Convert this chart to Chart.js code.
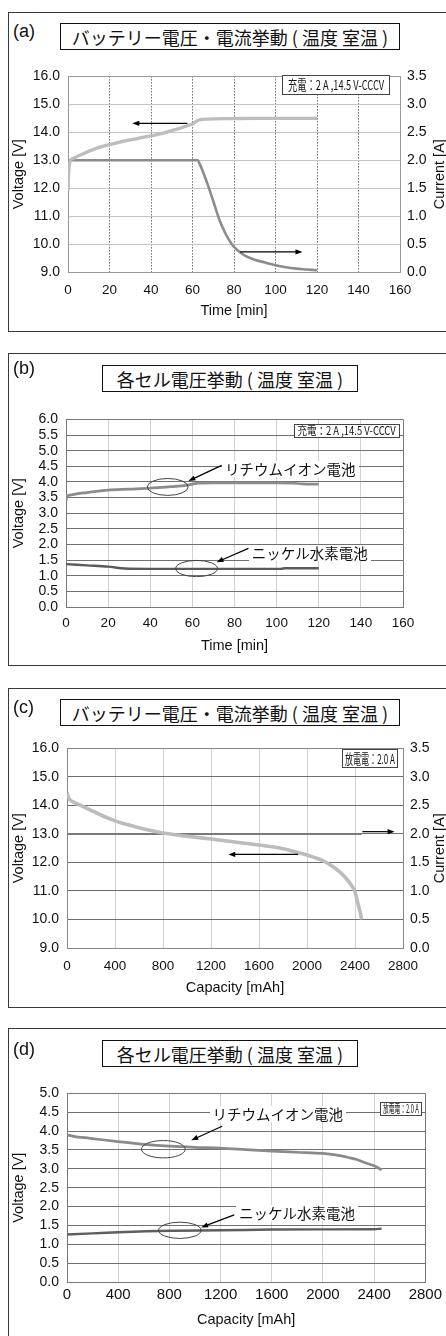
<!DOCTYPE html>
<html><head><meta charset="utf-8">
<script src="https://cdn.jsdelivr.net/npm/chart.js@4.4.1/dist/chart.umd.min.js"></script>
<style>
html,body{margin:0;padding:0;background:#fff;}
#page{position:relative;width:446px;height:1336px;overflow:hidden;font-family:"Liberation Sans",Arial,sans-serif;}
.frame{position:absolute;left:8px;width:470px;border:1px solid #3a3a3a;box-sizing:border-box;z-index:0;}
.plab{position:absolute;left:13px;font-size:18px;line-height:20px;color:#111;z-index:3;}
.title{position:absolute;height:27px;border:1px solid #111;box-sizing:border-box;background:#fff;display:flex;align-items:center;justify-content:center;font-family:"Noto Sans CJK JP",sans-serif;font-size:18px;color:#111;white-space:pre;z-index:3;}
.cond{position:absolute;border:1px solid #444;box-sizing:border-box;background:#fff;display:flex;align-items:center;justify-content:center;overflow:visible;font-family:"Noto Sans CJK JP",sans-serif;color:#111;white-space:nowrap;z-index:3;}
.cond span{display:inline-block;transform-origin:50% 50%;line-height:1;}
.slab{position:absolute;background:#fff;font-family:"Noto Sans CJK JP",sans-serif;font-size:14.5px;line-height:16px;padding:0 3px;color:#111;white-space:nowrap;transform:translateY(-50%);z-index:3;}
canvas{position:absolute;left:0;z-index:1;}
</style></head>
<body>
<div id="page">
  <div class="frame" style="top:12px;height:320px;"></div>
  <div class="frame" style="top:353px;height:313px;"></div>
  <div class="frame" style="top:688px;height:320px;"></div>
  <div class="frame" style="top:1028px;height:330px;"></div>

  <div class="plab" style="top:21px;">(a)</div>
  <div class="plab" style="top:358px;">(b)</div>
  <div class="plab" style="top:697px;">(c)</div>
  <div class="plab" style="top:1039px;">(d)</div>

  <div class="title" style="left:60px;top:23px;width:340px;">バッテリー電圧・電流挙動 ( 温度 室温 )</div>
  <div class="title" style="left:102px;top:365px;width:256px;">各セル電圧挙動 ( 温度 室温 )</div>
  <div class="title" style="left:60px;top:699px;width:340px;">バッテリー電圧・電流挙動 ( 温度 室温 )</div>
  <div class="title" style="left:102px;top:1040px;width:256px;">各セル電圧挙動 ( 温度 室温 )</div>

  <div class="cond" style="left:282px;top:75px;width:108px;height:20px;font-size:13.5px;"><span data-w="96">充電：2 A ,14.5 V-CCCV</span></div>
  <div class="cond" style="left:294px;top:424px;width:106px;height:14px;font-size:11.5px;"><span data-w="98">充電：2 A ,14.5 V-CCCV</span></div>
  <div class="cond" style="left:342px;top:749px;width:56px;height:19px;font-size:13.5px;"><span data-w="50">放電電：2.0 A</span></div>
  <div class="cond" style="left:380px;top:1102px;width:42px;height:14px;font-size:11.5px;"><span data-w="36">放電電：2.0 A</span></div>

  <canvas id="cA"></canvas>
  <canvas id="cB"></canvas>
  <canvas id="cC"></canvas>
  <canvas id="cD"></canvas>
</div>
<script>
// ---------------- DATA ----------------
// (a) charge: battery voltage [V] and current [A] vs time [min]
const chargeVoltTime = [0, 0.3, 0.7, 1.2, 2, 4, 7, 10, 15, 20, 25, 30, 35, 40, 45, 50, 55, 58, 60, 62, 63, 65, 70, 80, 90, 100, 110, 120];
const chargeVoltage  = [11.9, 12.5, 12.85, 13.0, 13.05, 13.12, 13.22, 13.32, 13.46, 13.56, 13.65, 13.73, 13.8, 13.87, 13.95, 14.06, 14.17, 14.25, 14.3, 14.4, 14.44, 14.46, 14.48, 14.49, 14.5, 14.5, 14.5, 14.5];
const chargeCurrTime = [0, 62.5, 63.5, 65, 67, 70, 73, 76, 78, 80, 83, 86, 90, 95, 100, 105, 110, 115, 120];
const chargeCurrent  = [2.0, 2.0, 1.93, 1.8, 1.6, 1.27, 0.93, 0.68, 0.55, 0.45, 0.35, 0.28, 0.22, 0.17, 0.12, 0.085, 0.06, 0.045, 0.03];

// (b) cell voltages during charge vs time [min]
const liChargeTime   = [0, 0.5, 2, 5, 10, 20, 30, 40, 50, 57, 60, 63, 70, 80, 100, 108, 112, 120];
const liChargeVolt   = [3.40, 3.55, 3.58, 3.62, 3.66, 3.74, 3.77, 3.80, 3.85, 3.89, 3.93, 3.96, 3.97, 3.97, 3.97, 3.96, 3.94, 3.93];
const nimhChargeTime = [0, 10, 20, 28, 40, 60, 80, 102, 104, 120];
const nimhChargeVolt = [1.37, 1.33, 1.29, 1.23, 1.22, 1.22, 1.22, 1.22, 1.24, 1.24];

// (c) discharge: battery voltage [V] and current [A] vs capacity [mAh]
const dischargeCap   = [0, 15, 40, 100, 200, 300, 400, 500, 600, 700, 800, 1000, 1200, 1400, 1600, 1800, 1950, 2000, 2100, 2160, 2220, 2280, 2330, 2370, 2400, 2425, 2445, 2455];
const dischargeVolt  = [14.45, 14.25, 14.15, 14.03, 13.83, 13.63, 13.46, 13.33, 13.22, 13.12, 13.03, 12.92, 12.82, 12.72, 12.61, 12.48, 12.32, 12.26, 12.12, 12.0, 11.84, 11.64, 11.42, 11.2, 10.97, 10.55, 10.22, 10.0];
const dischargeCurrCap = [0, 2455];
const dischargeCurr    = [2.0, 2.0];

// (d) cell voltages during discharge vs capacity [mAh]
const liDisCap    = [0, 50, 180, 400, 600, 800, 1000, 1200, 1400, 1600, 1800, 2000, 2100, 2200, 2270, 2330, 2400, 2459];
const liDisVolt   = [3.90, 3.86, 3.81, 3.72, 3.65, 3.60, 3.57, 3.55, 3.51, 3.47, 3.44, 3.41, 3.37, 3.30, 3.24, 3.16, 3.08, 2.97];
const nimhDisCap  = [0, 200, 400, 800, 1200, 1600, 2000, 2400, 2459];
const nimhDisVolt = [1.26, 1.29, 1.32, 1.36, 1.37, 1.39, 1.395, 1.40, 1.415];

// tick labels
const timeTicks   = [0, 20, 40, 60, 80, 100, 120, 140, 160];
const capTicks    = [0, 400, 800, 1200, 1600, 2000, 2400, 2800];
const battVTicks  = [9, 10, 11, 12, 13, 14, 15, 16];
const currTicks   = [0, 0.5, 1.0, 1.5, 2.0, 2.5, 3.0, 3.5];
const cellVTicksB = [0, 0.5, 1.0, 1.5, 2.0, 2.5, 3.0, 3.5, 4.0, 4.5, 5.0, 5.5, 6.0];
const cellVTicksD = [0, 0.5, 1.0, 1.5, 2.0, 2.5, 3.0, 3.5, 4.0, 4.5, 5.0];

// ---------------- RENDERING ----------------
const FONT = '"Liberation Sans", Arial, sans-serif';
const pts = (xs, ys) => xs.map((x, i) => ({x: x, y: ys[i]}));

document.querySelectorAll('.cond span').forEach(sp => {
  const tw = parseFloat(sp.dataset.w);
  sp.style.transform = 'scaleX(' + (tw / sp.offsetWidth) + ')';
});

function drawArrow(ctx, x1, y1, x2, y2) {
  const a = Math.atan2(y2 - y1, x2 - x1), L = 7, W = 2.6;
  ctx.strokeStyle = '#000'; ctx.fillStyle = '#000'; ctx.lineWidth = 1.2;
  ctx.beginPath(); ctx.moveTo(x1, y1); ctx.lineTo(x2 - L * 0.8 * Math.cos(a), y2 - L * 0.8 * Math.sin(a)); ctx.stroke();
  ctx.beginPath(); ctx.moveTo(x2, y2);
  ctx.lineTo(x2 - L * Math.cos(a) + W * Math.sin(a), y2 - L * Math.sin(a) - W * Math.cos(a));
  ctx.lineTo(x2 - L * Math.cos(a) - W * Math.sin(a), y2 - L * Math.sin(a) + W * Math.cos(a));
  ctx.closePath(); ctx.fill();
}

const annotPlugin = {
  id: 'annot',
  afterDatasetsDraw(chart, args, o) {
    if (!o) return;
    const ctx = chart.ctx, xs = chart.scales.x, ys = chart.scales.y;
    ctx.save();
    (o.ellipses || []).forEach(e => {
      const cx = xs.getPixelForValue(e.x), cy = ys.getPixelForValue(e.y);
      const rx = Math.abs(xs.getPixelForValue(e.x + e.rx) - cx), ry = Math.abs(ys.getPixelForValue(e.y + e.ry) - cy);
      ctx.beginPath(); ctx.ellipse(cx, cy, rx, ry, 0, 0, Math.PI * 2);
      ctx.strokeStyle = '#444'; ctx.lineWidth = 1; ctx.stroke();
    });
    (o.arrows || []).forEach(a => {
      drawArrow(ctx, xs.getPixelForValue(a.from[0]), ys.getPixelForValue(a.from[1]),
                     xs.getPixelForValue(a.to[0]), ys.getPixelForValue(a.to[1]));
    });
    if (o.rightTitle && chart.scales.y2) {
      const s = chart.scales.y2;
      ctx.translate(s.right - 6, (s.top + s.bottom) / 2);
      ctx.rotate(-Math.PI / 2);
      ctx.font = '14.5px ' + FONT; ctx.fillStyle = '#111';
      ctx.textAlign = 'center'; ctx.textBaseline = 'middle';
      ctx.fillText(o.rightTitle, 0, 0);
    }
    ctx.restore();
    const cv = chart.canvas;
    (o.labels || []).forEach(l => {
      let el = document.getElementById(l.id);
      if (!el) {
        el = document.createElement('div'); el.id = l.id; el.className = 'slab'; el.textContent = l.text;
        document.getElementById('page').appendChild(el);
      }
      el.style.left = (cv.offsetLeft + xs.getPixelForValue(l.x) - 3) + 'px';
      el.style.top = (cv.offsetTop + ys.getPixelForValue(l.y)) + 'px';
    });
  }
};
Chart.register(annotPlugin);

function makePanel(c) {
  const cv = document.getElementById(c.id);
  cv.width = 446; cv.height = c.canvasH;
  cv.style.width = '446px'; cv.style.height = c.canvasH + 'px'; cv.style.top = c.canvasTop + 'px';
  const xMin = c.xTicks[0], xMax = c.xTicks[c.xTicks.length - 1];
  const yMin = c.yTicks[0], yMax = c.yTicks[c.yTicks.length - 1];
  const scales = {
    x: {
      type: 'linear', min: xMin, max: xMax,
      afterBuildTicks: s => { s.ticks = c.xTicks.map(v => ({value: v})); },
      ticks: {font: {family: FONT, size: c.xTickSize}, color: '#111', padding: c.xTickPad, maxRotation: 0, autoSkip: false, callback: v => String(v)},
      grid: {drawTicks: false, lineWidth: 1, color: ctx => {
        const v = ctx.tick ? ctx.tick.value : null;
        if (v === xMin) return 'rgba(0,0,0,0)';
        if (v === xMax) return c.hasY2 ? 'rgba(0,0,0,0)' : c.edgeColor;
        return c.xGridColor;
      }},
      border: {color: c.edgeColor, width: 1, dash: c.xDash || []},
      title: {display: true, text: c.xTitle, font: {family: FONT, size: 14.5}, color: '#111', padding: {top: 0, bottom: 0}},
      afterFit: s => { s.height = c.canvasH - (c.plotBottom - c.canvasTop); }
    },
    y: {
      type: 'linear', position: 'left', min: yMin, max: yMax,
      afterBuildTicks: s => { s.ticks = c.yTicks.map(v => ({value: v})); },
      ticks: {font: {family: FONT, size: 14}, color: '#111', padding: 8, autoSkip: false, callback: v => Number(v).toFixed(1)},
      grid: {drawTicks: false, lineWidth: 1, color: ctx => {
        const v = ctx.tick ? ctx.tick.value : null;
        if (v === yMax) return c.edgeColor;
        return c.yGridColor;
      }},
      border: {color: c.edgeColor, width: 1},
      title: {display: true, text: 'Voltage [V]', font: {family: FONT, size: 14.5}, color: '#111', padding: {top: 10, bottom: 0}},
      afterFit: s => { s.width = c.plotLeft; }
    }
  };
  if (c.hasY2) {
    scales.y2 = {
      type: 'linear', position: 'right', min: c.y2Ticks[0], max: c.y2Ticks[c.y2Ticks.length - 1],
      afterBuildTicks: s => { s.ticks = c.y2Ticks.map(v => ({value: v})); },
      ticks: {font: {family: FONT, size: 14}, color: '#111', padding: 7, autoSkip: false, callback: v => Number(v).toFixed(1)},
      grid: {drawOnChartArea: false, drawTicks: false},
      border: {color: c.edgeColor, width: 1},
      afterFit: s => { s.width = 446 - c.plotRight; }
    };
  }
  return new Chart(cv, {
    type: 'line',
    data: {datasets: c.datasets.map(d => Object.assign({
      pointRadius: 0, pointHoverRadius: 0, fill: false, cubicInterpolationMode: 'monotone', yAxisID: 'y'
    }, d))},
    options: {
      responsive: false, animation: false, events: [],
      layout: {padding: {top: c.plotTop - c.canvasTop, left: 0, right: c.hasY2 ? 0 : 446 - c.plotRight, bottom: 0}},
      scales: scales,
      plugins: {legend: {display: false}, tooltip: {enabled: false}, annot: c.annot}
    }
  });
}

// (a)
makePanel({
  id: 'cA', canvasTop: 60, canvasH: 260, plotTop: 72, plotBottom: 272, plotLeft: 68, plotRight: 400,
  xTicks: timeTicks, yTicks: battVTicks, y2Ticks: currTicks, hasY2: true,
  xTickSize: 13.5, xTickPad: 10, xTitle: 'Time [min]',
  edgeColor: '#999', xGridColor: '#222', yGridColor: '#c4c4c4', xDash: [1, 2],
  datasets: [
    {label: 'Voltage', data: pts(chargeVoltTime, chargeVoltage), borderColor: '#bdbdbd', borderWidth: 3.3},
    {label: 'Current', data: pts(chargeCurrTime, chargeCurrent), borderColor: '#8c8c8c', borderWidth: 2.6, yAxisID: 'y2'}
  ],
  annot: {
    arrows: [{from: [57.5, 14.32], to: [31, 14.32]}, {from: [83, 9.72], to: [113, 9.72]}],
    rightTitle: 'Current [A]'
  }
});

// (b)
makePanel({
  id: 'cB', canvasTop: 403, canvasH: 252, plotTop: 415, plotBottom: 607, plotLeft: 66, plotRight: 403,
  xTicks: timeTicks, yTicks: cellVTicksB, hasY2: false,
  xTickSize: 13.5, xTickPad: 8.6, xTitle: 'Time [min]',
  edgeColor: '#777', xGridColor: '#d2d2d2', yGridColor: '#707070',
  datasets: [
    {label: 'リチウムイオン電池', data: pts(liChargeTime, liChargeVolt), borderColor: '#8c8c8c', borderWidth: 2.7},
    {label: 'ニッケル水素電池', data: pts(nimhChargeTime, nimhChargeVolt), borderColor: '#5a5a5a', borderWidth: 2.4}
  ],
  annot: {
    ellipses: [{x: 48.3, y: 3.84, rx: 9.7, ry: 0.27}, {x: 62, y: 1.23, rx: 9.9, ry: 0.26}],
    arrows: [{from: [73.9, 4.53], to: [58.1, 4.03]}, {from: [86.6, 1.875], to: [71.5, 1.43]}],
    labels: [{id: 'lb1', text: 'リチウムイオン電池', x: 75.5, y: 4.42}, {id: 'lb2', text: 'ニッケル水素電池', x: 88.2, y: 1.74}]
  }
});

// (c)
makePanel({
  id: 'cC', canvasTop: 732, canvasH: 265, plotTop: 744, plotBottom: 948, plotLeft: 67, plotRight: 403,
  xTicks: capTicks, yTicks: battVTicks, y2Ticks: currTicks, hasY2: true,
  xTickSize: 13.5, xTickPad: 10.6, xTitle: 'Capacity [mAh]',
  edgeColor: '#888', xGridColor: '#d2d2d2', yGridColor: '#6e6e6e',
  datasets: [
    {label: 'Voltage', data: pts(dischargeCap, dischargeVolt), borderColor: '#bcbcbc', borderWidth: 3.6},
    {label: 'Current', data: pts(dischargeCurrCap, dischargeCurr), borderColor: '#7a7a7a', borderWidth: 2, yAxisID: 'y2'}
  ],
  annot: {
    arrows: [{from: [1926, 12.28], to: [1344, 12.28]}, {from: [2461, 13.08], to: [2730, 13.08]}],
    rightTitle: 'Current [A]'
  }
});

// (d)
makePanel({
  id: 'cD', canvasTop: 1077, canvasH: 252, plotTop: 1089, plotBottom: 1282, plotLeft: 67, plotRight: 427,
  xTicks: capTicks, yTicks: cellVTicksD, hasY2: false,
  xTickSize: 15, xTickPad: 4, xTitle: 'Capacity [mAh]',
  edgeColor: '#777', xGridColor: '#d2d2d2', yGridColor: '#707070',
  datasets: [
    {label: 'リチウムイオン電池', data: pts(liDisCap, liDisVolt), borderColor: '#8a8a8a', borderWidth: 2.7},
    {label: 'ニッケル水素電池', data: pts(nimhDisCap, nimhDisVolt), borderColor: '#5e5e5e', borderWidth: 2.4}
  ],
  annot: {
    ellipses: [{x: 753, y: 3.52, rx: 171, ry: 0.23}, {x: 882, y: 1.37, rx: 166, ry: 0.216}],
    arrows: [{from: [1212, 4.13], to: [971, 3.755]}, {from: [1307, 1.78], to: [1048, 1.448]}],
    labels: [{id: 'ld1', text: 'リチウムイオン電池', x: 1137, y: 4.45}, {id: 'ld2', text: 'ニッケル水素電池', x: 1344, y: 1.82}]
  }
});
</script>
</body></html>
